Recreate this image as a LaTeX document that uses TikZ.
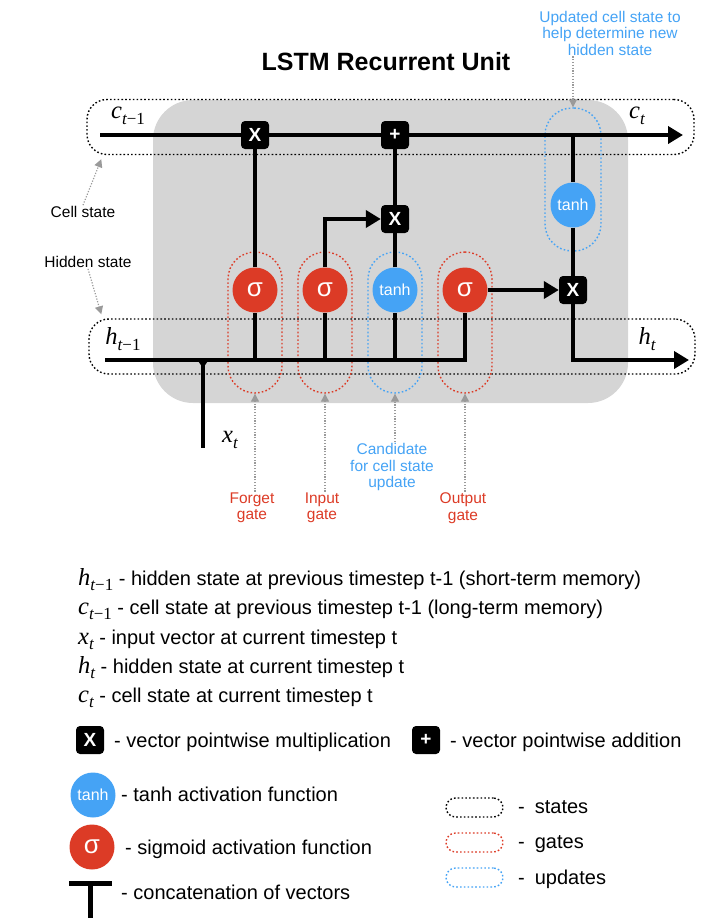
\documentclass[tikz,border=0pt]{standalone}
\usepackage{fontspec}
\setmainfont{Liberation Sans}
\newfontfamily\tms{Liberation Serif}
\usetikzlibrary{arrows.meta}
\definecolor{sred}{HTML}{DC3B26}
\definecolor{sblue}{HTML}{45A3F5}
\definecolor{cellgray}{HTML}{D5D5D5}
\definecolor{anngray}{HTML}{9A9A9A}
\newcommand\mv[2]{{\fontsize{24.5}{24}\selectfont\tms\itshape #1}\raisebox{-5.5pt}{\fontsize{17}{17}\selectfont\tms #2}}
\newcommand\tsub{{\itshape t}}
\tikzset{
  wire/.style={line width=3.8pt},
  arr/.style={-{Triangle[length=15pt,width=17pt]}},
  opbox/.style={fill=black, rounded corners=4pt, minimum size=28pt, inner sep=0pt, text=white, font=\fontsize{19}{19}\selectfont\bfseries},
  sig/.style={circle, fill=sred, minimum size=45pt, inner sep=0pt, text=white, font=\fontsize{26}{26}\selectfont},
  tnh/.style={circle, fill=sblue, minimum size=45pt, inner sep=0pt, text=white, font=\fontsize{16}{16}\selectfont},
  dotbox/.style={line width=1.4pt, dash pattern=on 1.6pt off 2.2pt, inner sep=0pt},
  statebox/.style={dotbox, draw=black, rounded corners=20pt},
  gatebox/.style={dotbox, draw=sred, rounded corners=27pt, minimum width=54pt, minimum height=141pt},
  updbox/.style={dotbox, draw=sblue, rounded corners=27pt, minimum width=56pt, minimum height=143pt},
  ann/.style={draw=anngray, line width=1.2pt, dash pattern=on 1.2pt off 1.6pt, -{Triangle[length=8pt,width=8pt]}},
  lbl/.style={font=\fontsize{15.5}{16.5}\selectfont, align=center, inner sep=1pt},
  leg/.style={anchor=base west, font=\fontsize{20}{24}\selectfont, inner sep=0pt},
  mathlbl/.style={inner sep=0pt},
}
\begin{document}
\begin{tikzpicture}[x=1pt,y=-1pt]
\useasboundingbox (0,0) rectangle (717,922);
% cell background
\fill[cellgray, rounded corners=40pt] (153,100) rectangle (628,403);
% title and annotation
\node[font=\fontsize{25}{28}\selectfont\bfseries] (title) at (386,62) {LSTM Recurrent Unit};
\node[lbl, text=sblue] (upd) at (610,33) {Updated cell state to\\help determine new\\hidden state};
% dotted boxes
\node[statebox, minimum width=607pt, minimum height=55pt] (cbox) at (390.5,127) {};
\node[statebox, minimum width=606pt, minimum height=55pt] (hbox) at (392,346.5) {};
\node[gatebox] (fbox) at (255,322.5) {};
\node[gatebox] (ibox) at (325,322.5) {};
\node[gatebox, draw=sblue] (gbox) at (395,322.5) {};
\node[gatebox] (obox) at (465,322.5) {};
\node[updbox] (ubox) at (573,179.5) {};
% operation nodes
\node[opbox] (fX) at (255,135) {X};
\node[opbox] (add) at (395,135) {+};
\node[opbox] (iX) at (395,219) {X};
\node[opbox] (oX) at (573,290) {X};
\node[sig] (fs) at (255,290) {σ};
\node[sig] (is) at (325,290) {σ};
\node[tnh] (gt) at (395,290) {tanh};
\node[sig] (os) at (465,290) {σ};
\node[tnh] (rt) at (573,205) {tanh};
% coordinates
\coordinate (cin) at (100,135);
\coordinate (cout) at (683,135);
\coordinate (tap) at (573,135);
\coordinate (hin) at (105,360);
\coordinate (hout) at (689,360);
\coordinate (j1) at (255,360);
\coordinate (j2) at (325,360);
\coordinate (j3) at (395,360);
\coordinate (cc) at (203,360);
\coordinate (xt) at (203,448);
% wires
\draw[wire] (cin) -- (fX);
\draw[wire] (fX) -- (add);
\draw[wire, arr] (add) -- (cout);
\draw[wire] (tap) -- (rt);
\draw[wire] (rt) -- (oX);
\draw[wire, arr] (oX) |- (hout);
\draw[wire] (fs) -- (fX);
\draw[wire, arr] (is) |- (iX);
\draw[wire] (gt) -- (iX);
\draw[wire] (iX) -- (add);
\draw[wire, arr] (os) -- (oX);
\draw[wire] (hin) -| (os);
\draw[wire] (j1) -- (fs);
\draw[wire] (j2) -- (is);
\draw[wire] (j3) -- (gt);
\draw[wire] (cc) -- (xt);
\fill (196,358) -- (210,358) -- (203,368) -- cycle;
% math labels
\node[mathlbl] (lc0) at (128,116) {\mv{c}{\tsub−1}};
\node[mathlbl] (lc1) at (637,116) {\mv{c}{\tsub}};
\node[mathlbl] (lh0) at (123,339) {\mv{h}{\tsub−1}};
\node[mathlbl] (lh1) at (647,339) {\mv{h}{\tsub}};
\node[mathlbl] (lx) at (230,440) {\mv{x}{\tsub}};
% side labels
\node[lbl] (cl) at (83,212) {Cell state};
\node[lbl] (hl) at (88,262) {Hidden state};
\draw[ann] (cl.north) -- ([xshift=15pt,yshift=-4pt]cbox.south west);
\draw[ann] (hl.south) -- ([xshift=13pt,yshift=4pt]hbox.north west);
\draw[ann] (upd.south -| ubox.north) -- (ubox.north);
% gate labels
\node[lbl, text=sred] (fl) at (252,508) {Forget\\gate};
\node[lbl, text=sred] (il) at (322,508) {Input\\gate};
\node[lbl, text=sblue] (gl) at (392,467) {Candidate\\for cell state\\update};
\node[lbl, text=sred] (ol) at (463,508) {Output\\gate};
\draw[ann] (fbox.south |- fl.north) -- (fbox.south);
\draw[ann] (ibox.south |- il.north) -- (ibox.south);
\draw[ann] (gbox.south |- gl.north) -- (gbox.south);
\draw[ann] (obox.south |- ol.north) -- (obox.south);
% legend text
\node[leg] (g1) at (78,585) {\mv{h}{\tsub−1} - hidden state at previous timestep t-1 (short-term memory)};
\node[leg] (g2) at (78,614) {\mv{c}{\tsub−1} - cell state at previous timestep t-1 (long-term memory)};
\node[leg] (g3) at (78,644) {\mv{x}{\tsub} - input vector at current timestep t};
\node[leg] (g4) at (78,673) {\mv{h}{\tsub} - hidden state at current timestep t};
\node[leg] (g5) at (78,702) {\mv{c}{\tsub} - cell state at current timestep t};
% legend symbols
\node[opbox] (kX) at (90,740) {X};
\node[leg] (kXt) at (114,747) {- vector pointwise multiplication};
\node[opbox] (kadd) at (426,740) {+};
\node[leg] (kaddt) at (450,747) {- vector pointwise addition};
\node[tnh] (kt) at (93,795) {tanh};
\node[leg] (ktt) at (121,801) {- tanh activation function};
\node[sig] (ks) at (92,847) {σ};
\node[leg] (kst) at (125,854) {- sigmoid activation function};
\draw[line width=5pt] (69,883) -- (112,883);
\draw[line width=5pt] (90.5,883) -- (90.5,918);
\node[leg] (kct) at (121,899) {- concatenation of vectors};
\node[statebox, rounded corners=9.5pt, minimum width=57pt, minimum height=19pt] (ks1) at (474.5,807.5) {};
\node[statebox, draw=sred, rounded corners=9.5pt, minimum width=57pt, minimum height=19pt] (ks2) at (474.5,842.5) {};
\node[statebox, draw=sblue, rounded corners=9.5pt, minimum width=57pt, minimum height=19pt] (ks3) at (474.5,877.5) {};
\node[leg] (ks1t) at (518,813) {-\hspace{10pt}states};
\node[leg] (ks2t) at (518,848) {-\hspace{10pt}gates};
\node[leg] (ks3t) at (518,884) {-\hspace{10pt}updates};
\end{tikzpicture}
\end{document}
